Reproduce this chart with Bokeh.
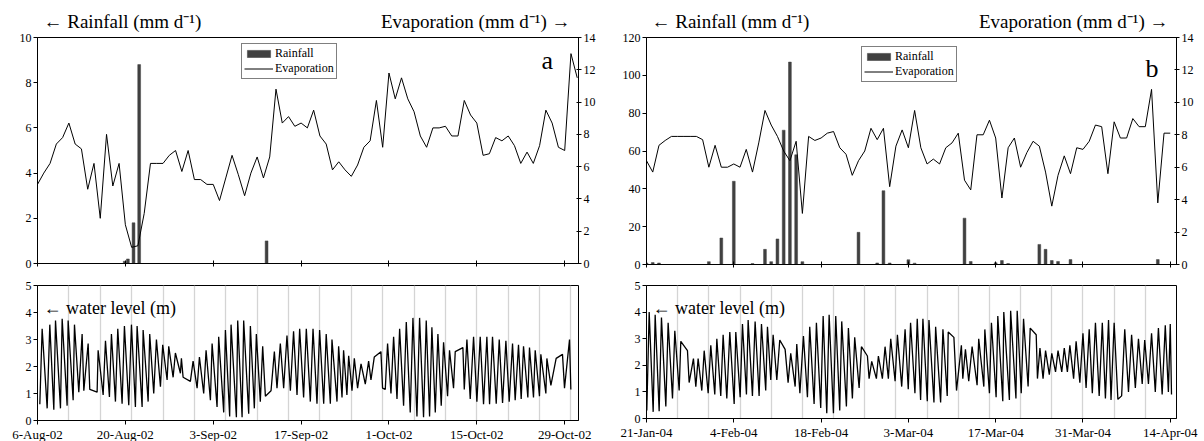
from bokeh.plotting import figure
from bokeh.models import Range1d, LinearAxis, FixedTicker, Label, Legend, LegendItem
from bokeh.core.properties import value
from bokeh.layouts import row, column
from bokeh.embed import file_html
from bokeh.resources import INLINE

FONT = "Liberation Serif"
BAR = "#404040"

# ---------------- panel a (6-Aug-02 .. 31-Oct-02) ----------------
a_tick_days = [0, 14, 28, 42, 56, 70, 84]
a_tick_labels = ["6-Aug-02", "20-Aug-02", "3-Sep-02", "17-Sep-02", "1-Oct-02", "15-Oct-02", "29-Oct-02"]
a_evap = [4.9, 5.6, 6.2, 7.4, 7.8, 8.7, 7.4, 7.1, 4.6, 6.2, 2.8, 8.0, 4.8, 6.2, 2.4, 1.0, 1.1, 3.1,
          6.2, 6.2, 6.2, 6.7, 7.0, 5.7, 7.0, 5.2, 5.2, 4.9, 4.9, 3.9, 5.3, 6.7, 5.5, 4.2, 5.6, 6.6,
          5.3, 6.6, 10.8, 8.7, 9.1, 8.5, 8.7, 8.4, 9.5, 7.9, 7.4, 5.8, 6.3, 5.8, 5.4, 6.1, 7.2, 7.6,
          10.1, 7.2, 11.8, 10.2, 11.5, 10.2, 9.4, 7.9, 7.2, 8.4, 8.4, 8.5, 7.9, 7.9, 10.1, 9.2, 8.7,
          6.7, 6.8, 7.8, 7.6, 7.9, 7.3, 6.2, 6.9, 6.2, 7.3, 9.5, 8.7, 7.2, 7.0, 13.0, 11.5]
a_rain_days = [13.9, 14.4, 15.3, 16.2, 36.5]
a_rain = [0.1, 0.2, 1.8, 8.8, 1.0]
a_tide = [(0.37, 0.6), (0.74, 3.4), (1.54, 0.45), (1.96, 3.55), (2.6, 0.4), (2.87, 3.7), (3.66, 0.45),
          (3.93, 3.77), (4.72, 0.55), (4.88, 3.7), (5.68, 0.75), (5.89, 3.55), (6.58, 1.05), (7.11, 3.2),
          (7.38, 1.1), (8.07, 2.85), (8.33, 1.15), (9.5, 1.05), (9.66, 2.6), (10.46, 0.95), (10.83, 2.95),
          (11.46, 0.87), (11.78, 3.2), (12.42, 0.7), (12.79, 3.4), (13.48, 0.62), (13.85, 3.5), (14.54, 0.57),
          (14.97, 3.55), (15.6, 0.5), (15.87, 3.5), (16.67, 0.5), (16.83, 3.35), (17.63, 0.7), (17.88, 3.2),
          (18.52, 1.0), (18.95, 3.0), (19.59, 1.25), (19.95, 2.8), (20.65, 1.5), (20.91, 2.75), (21.61, 1.6),
          (21.97, 2.5), (22.77, 1.75), (22.93, 2.3), (23.2, 1.6), (24.36, 1.45), (24.79, 2.2), (25.43, 1.2),
          (25.8, 2.35), (26.48, 1.0), (26.86, 2.6), (27.55, 0.75), (27.82, 2.85), (28.61, 0.5), (28.87, 3.1),
          (29.67, 0.3), (29.94, 3.35), (30.62, 0.15), (30.84, 3.55), (31.69, 0.12), (31.9, 3.7), (32.6, 0.12),
          (32.85, 3.7), (33.65, 0.25), (33.92, 3.5), (34.55, 0.45), (34.87, 3.2), (35.5, 0.7), (35.88, 2.75),
          (36.31, 0.9), (37.21, 1.1), (37.74, 2.55), (38.16, 1.2), (38.69, 2.85), (39.22, 1.2), (39.75, 3.15),
          (40.29, 1.1), (40.8, 3.3), (41.35, 0.95), (41.77, 3.4), (42.4, 0.85), (42.83, 3.4), (43.47, 0.7),
          (43.9, 3.4), (44.53, 0.62), (44.95, 3.35), (45.6, 0.62), (46.0, 3.2), (46.66, 0.62), (46.92, 3.0),
          (47.72, 0.7), (47.98, 2.75), (48.52, 0.85), (48.77, 2.6), (49.3, 0.95), (49.58, 2.4), (50.11, 1.1),
          (50.48, 2.3), (51.0, 1.2), (51.55, 2.1), (52.23, 1.35), (52.76, 2.2), (53.13, 1.5), (53.66, 2.35),
          (54.72, 2.55), (54.98, 1.2), (55.41, 1.15), (55.78, 2.85), (56.32, 1.0), (56.74, 3.1), (57.28, 0.8),
          (57.7, 3.4), (58.33, 0.55), (58.76, 3.65), (59.39, 0.3), (59.82, 3.8), (60.46, 0.15), (60.88, 3.8),
          (61.51, 0.12), (61.94, 3.7), (62.47, 0.15), (62.84, 3.45), (63.38, 0.3), (63.8, 3.2), (64.33, 0.55),
          (64.7, 2.9), (65.34, 0.9), (65.65, 2.6), (66.29, 1.2), (66.56, 2.55), (67.78, 2.7), (68.0, 1.15),
          (68.42, 3.0), (68.95, 0.8), (69.48, 3.1), (70.01, 0.7), (70.54, 3.1), (71.07, 0.6), (71.6, 3.1),
          (72.03, 0.6), (72.5, 3.1), (73.09, 0.62), (73.57, 3.0), (74.1, 0.65), (74.63, 2.95), (75.16, 0.7),
          (75.69, 2.85), (76.11, 0.75), (76.64, 2.8), (77.07, 0.8), (77.44, 2.75), (78.13, 0.85), (78.39, 2.7),
          (79.03, 0.85), (79.3, 2.6), (79.98, 0.9), (80.2, 2.45), (81.0, 1.0), (81.16, 2.3), (81.8, 1.3),
          (82.64, 2.3), (83.65, 2.45), (83.97, 1.2), (84.77, 3.0), (84.98, 1.15)]

# ---------------- panel b (21-Jan-04 .. 15-Apr-04) ----------------
b_tick_days = [0, 14, 28, 42, 56, 70, 84]
b_tick_labels = ["21-Jan-04", "4-Feb-04", "18-Feb-04", "3-Mar-04", "17-Mar-04", "31-Mar-04", "14-Apr-04"]
b_evap = [6.4, 5.7, 7.35, 7.65, 7.9, 7.9, 7.9, 7.9, 7.9, 7.7,
          6.0, 7.35, 6.0, 6.0, 6.2, 6.0, 7.1, 5.7, 7.5, 9.5,
          8.6, 7.9, 7.0, 6.4, 7.6, 3.15, 7.9, 7.65, 7.8, 8.1,
          8.2, 7.2, 6.8, 5.5, 6.4, 7.0, 8.4, 7.7, 8.4, 4.8,
          7.3, 8.3, 7.2, 9.5, 7.2, 6.2, 6.5, 6.2, 7.2, 7.5,
          8.1, 5.2, 4.6, 8.0, 8.0, 8.9, 7.8, 4.1, 7.2, 7.8,
          6.0, 6.9, 7.6, 7.3, 5.7, 3.6, 5.5, 6.7, 5.6, 7.2,
          7.1, 7.6, 8.6, 8.5, 5.6, 8.8, 7.8, 7.8, 9.0, 8.5,
          8.5, 10.8, 3.8, 8.1, 8.1]
b_rain_days = [0, 1, 2, 10, 12, 14, 17, 19, 20, 21, 22, 23, 24, 25, 34, 37, 38, 39, 42, 43,
               51, 52, 56, 57, 58, 63, 64, 65, 66, 68, 82]
b_rain = [0.8, 1.0, 0.8, 1.5, 14, 44, 0.5, 8, 1.5, 13.5, 71, 107, 58, 1.5, 17, 0.8, 39, 0.8, 2.5, 0.7,
          24.5, 1.6, 0.9, 2.1, 0.5, 10.6, 8, 2.1, 1.6, 2.6, 2.6]
b_tide = [(0.05, 0.3), (0.43, 4.0), (1.07, 0.25), (1.39, 3.9), (2.03, 0.27), (2.4, 3.8), (3.1, 0.45),
          (3.47, 3.6), (4.17, 0.75), (4.54, 3.3), (5.24, 1.05), (5.5, 2.9), (6.57, 2.55), (6.84, 1.35),
          (7.53, 2.25), (7.91, 1.2), (8.28, 2.25), (8.87, 1.05), (9.25, 2.55), (9.89, 0.95), (10.31, 2.75),
          (10.95, 0.9), (11.28, 3.0), (11.91, 0.85), (12.29, 3.15), (12.88, 0.75), (13.36, 3.25),
          (14.06, 0.55), (14.32, 3.25), (15.02, 0.8), (15.39, 3.55), (16.03, 0.9), (16.3, 3.7), (16.99, 0.85),
          (17.42, 3.65), (18.06, 0.85), (18.44, 3.55), (19.12, 1.05), (19.4, 3.45), (19.93, 1.45),
          (20.31, 3.15), (20.9, 1.45), (21.37, 2.95), (22.23, 2.6), (22.71, 1.35), (23.13, 2.45),
          (23.84, 1.2), (24.1, 2.8), (24.6, 0.95), (25.17, 3.1), (25.81, 0.8), (26.18, 3.45), (26.88, 0.55),
          (27.25, 3.6), (27.94, 0.4), (28.33, 3.85), (28.91, 0.2), (29.29, 3.9), (29.98, 0.2), (30.35, 3.85),
          (30.99, 0.3), (31.31, 3.65), (32.06, 0.45), (32.38, 3.4), (33.02, 0.75), (33.39, 3.05),
          (34.1, 1.15), (34.47, 2.7), (35.43, 2.35), (35.7, 1.5), (36.12, 2.15), (36.87, 1.5), (37.19, 2.35),
          (37.83, 1.5), (38.26, 2.7), (38.79, 1.5), (39.17, 3.0), (39.87, 1.4), (40.24, 3.15), (40.93, 1.2),
          (41.47, 3.35), (41.98, 1.1), (42.35, 3.6), (43.05, 0.95), (43.42, 3.75), (43.96, 0.7),
          (44.33, 3.75), (45.03, 0.65), (45.3, 3.7), (46.1, 0.6), (46.37, 3.45), (47.17, 0.6), (47.54, 3.35),
          (48.23, 0.85), (48.39, 3.25), (49.3, 3.05), (49.72, 1.05), (50.5, 2.75), (50.73, 1.5), (51.15, 2.6),
          (51.68, 1.4), (52.22, 2.7), (53.02, 1.25), (53.28, 3.0), (54.1, 1.2), (54.26, 3.35), (55.0, 0.95),
          (55.32, 3.6), (56.07, 0.8), (56.34, 3.85), (57.14, 0.65), (57.3, 4.0), (58.2, 0.7), (58.4, 4.05),
          (59.25, 0.75), (59.45, 4.05), (60.1, 0.95), (60.47, 3.75), (61.2, 1.2), (61.54, 3.4), (62.5, 3.15),
          (62.7, 1.5), (63.1, 2.65), (63.6, 1.5), (64.0, 2.55), (64.6, 1.65), (65.0, 2.45), (65.6, 1.75),
          (66.0, 2.55), (66.6, 1.75), (67.0, 2.65), (67.5, 1.75), (67.9, 2.75), (68.5, 1.5), (68.9, 2.9),
          (69.5, 1.35), (70.0, 3.2), (70.5, 1.15), (71.0, 3.35), (71.5, 0.95), (72.0, 3.6), (72.6, 0.85),
          (73.1, 3.6), (73.6, 0.75), (74.1, 3.7), (74.5, 0.7), (75.0, 3.6), (75.6, 0.72), (76.2, 0.85),
          (76.7, 3.35), (77.3, 1.0), (77.8, 3.15), (78.4, 1.15), (78.9, 3.0), (79.5, 1.3), (79.9, 2.95),
          (80.5, 1.3), (81.0, 3.2), (81.6, 1.0), (82.1, 3.4), (82.7, 0.9), (83.2, 3.5), (83.7, 1.0),
          (84.0, 3.55), (84.2, 0.9)]

LEFT_TITLE = "\u2190 Rainfall (mm d\u207b\u00b9)"
RIGHT_TITLE = "Evaporation (mm d\u207b\u00b9) \u2192"


def style_axis(ax, size="12px"):
    ax.major_label_text_font = FONT
    ax.major_label_text_font_size = size
    ax.major_label_text_color = "black"
    ax.axis_line_color = "black"
    ax.major_tick_line_color = "black"
    ax.minor_tick_line_color = None
    ax.major_label_standoff = 2


def header(bl, br, fw, fh, left_x, right_x, bottom_y):
    p = figure(frame_width=fw, frame_height=fh, x_range=Range1d(0, fw), y_range=Range1d(0, fh),
               min_border_left=bl, min_border_right=br, min_border_top=0, min_border_bottom=0,
               x_axis_location=None, y_axis_location=None, title=None,
               output_backend="svg", toolbar_location=None)
    p.grid.visible = False
    p.outline_line_color = None
    p.text(x=[left_x], y=[bottom_y], text=[LEFT_TITLE], text_font=value(FONT),
           text_font_size=value("19px"), text_baseline="bottom", text_align="left", text_color="black")
    p.text(x=[right_x], y=[bottom_y], text=[RIGHT_TITLE], text_font=value(FONT),
           text_font_size=value("19px"), text_baseline="bottom", text_align="right", text_color="black")
    return p


def top_panel(bl, br, bt, fw, fh, xmax, ymax, yticks, tick_days, evap, rain_days, rain,
              letter, letter_xy, legend_xy):
    p = figure(frame_width=fw, frame_height=fh, min_border_left=bl, min_border_right=br,
               min_border_top=bt, min_border_bottom=10, title=None,
               x_range=Range1d(0, xmax), y_range=Range1d(0, ymax),
               output_backend="svg", toolbar_location=None)
    p.extra_y_ranges = {"evap": Range1d(0, 14)}
    p.xgrid.visible = False
    p.ygrid.visible = False
    p.outline_line_color = "black"
    p.background_fill_color = "white"
    p.border_fill_color = "white"

    xa = p.xaxis[0]
    style_axis(xa)
    xa.ticker = FixedTicker(ticks=tick_days)
    xa.major_label_text_font_size = "1px"
    xa.major_label_text_color = None
    xa.major_label_standoff = 0
    xa.major_tick_in = 3
    xa.major_tick_out = 3

    ya = p.yaxis[0]
    style_axis(ya)
    ya.ticker = FixedTicker(ticks=yticks)
    ya.major_tick_in = 0
    ya.major_tick_out = 4

    ra = LinearAxis(y_range_name="evap", ticker=FixedTicker(ticks=[0, 2, 4, 6, 8, 10, 12, 14]))
    style_axis(ra)
    ra.major_tick_in = 2
    ra.major_tick_out = 3
    p.add_layout(ra, "right")

    bars = p.vbar(x=rain_days, top=rain, width=0.45, bottom=0,
                  fill_color=BAR, line_color=BAR, line_width=0.5)
    ln = p.line(x=list(range(len(evap))), y=evap, y_range_name="evap",
                line_color="black", line_width=1)

    leg = Legend(items=[LegendItem(label="Rainfall", renderers=[bars]),
                        LegendItem(label="Evaporation", renderers=[ln])],
                 location=legend_xy)
    leg.border_line_color = "black"
    leg.border_line_width = 1
    leg.background_fill_color = "white"
    leg.background_fill_alpha = 1
    leg.padding = 2
    leg.spacing = 0
    leg.margin = 0
    leg.glyph_width = 29
    leg.glyph_height = 9
    leg.label_height = 12
    leg.label_standoff = 2
    leg.label_text_font = FONT
    leg.label_text_font_size = "12px"
    leg.label_text_color = "black"
    p.add_layout(leg)

    p.add_layout(Label(x=letter_xy[0], y=letter_xy[1], x_units="screen", y_units="screen",
                       text=letter, text_font=FONT, text_font_size="26px", text_color="black",
                       text_baseline="alphabetic"))
    return p


def bottom_panel(bl, br, fw, fh, bt, bb, xmax, tick_days, tick_labels, tide, grid_days):
    p = figure(frame_width=fw, frame_height=fh, min_border_left=bl, min_border_right=br,
               min_border_top=bt, min_border_bottom=bb, title=None,
               x_range=Range1d(0, xmax), y_range=Range1d(0, 5),
               output_backend="svg", toolbar_location=None)
    p.outline_line_color = "black"
    p.ygrid.visible = False
    p.xgrid.ticker = FixedTicker(ticks=grid_days)
    p.xgrid.grid_line_color = "#d4d4d4"
    p.xgrid.grid_line_width = 1.3

    xa = p.xaxis[0]
    style_axis(xa, "13px")
    xa.ticker = FixedTicker(ticks=tick_days)
    xa.major_label_overrides = {d: s for d, s in zip(tick_days, tick_labels)}
    xa.major_tick_in = 0
    xa.major_tick_out = 4

    ya = p.yaxis[0]
    style_axis(ya)
    ya.ticker = FixedTicker(ticks=[0, 1, 2, 3, 4, 5])
    ya.major_tick_in = 0
    ya.major_tick_out = 4

    p.line(x=[t for t, _ in tide], y=[h for _, h in tide], line_color="black", line_width=1.3)
    p.add_layout(Label(x=6, y=fh - 22, x_units="screen", y_units="screen",
                       text="\u2190 water level (m)", text_font=FONT, text_font_size="18px",
                       text_color="black", text_baseline="alphabetic"))
    return p


a_head = header(37, 24, 541, 32, 6, 533, 1)
a_top = top_panel(37, 24, 5, 541, 226, 86.2, 10, [0, 2, 4, 6, 8, 10], a_tick_days, a_evap,
                  a_rain_days, a_rain, "a", (504, 203), (204, 184))
a_bot = bottom_panel(37, 24, 541, 135, 12, 21, 86.2, a_tick_days, a_tick_labels, a_tide,
                     list(range(5, 86, 5)))
b_head = header(44, 28, 530, 32, 5, 522, 1)
b_top = top_panel(44, 28, 5, 530, 227, 85.0, 120, [0, 20, 40, 60, 80, 100, 120], b_tick_days, b_evap,
                  b_rain_days, b_rain, "b", (499, 196), (215, 182))
b_bot = bottom_panel(44, 28, 530, 133, 11, 23, 85.0, b_tick_days, b_tick_labels, b_tide,
                     list(range(5, 85, 5)))

layout = row(column(a_head, a_top, a_bot), column(b_head, b_top, b_bot))
open("out.html", "w").write(file_html(layout, INLINE))
